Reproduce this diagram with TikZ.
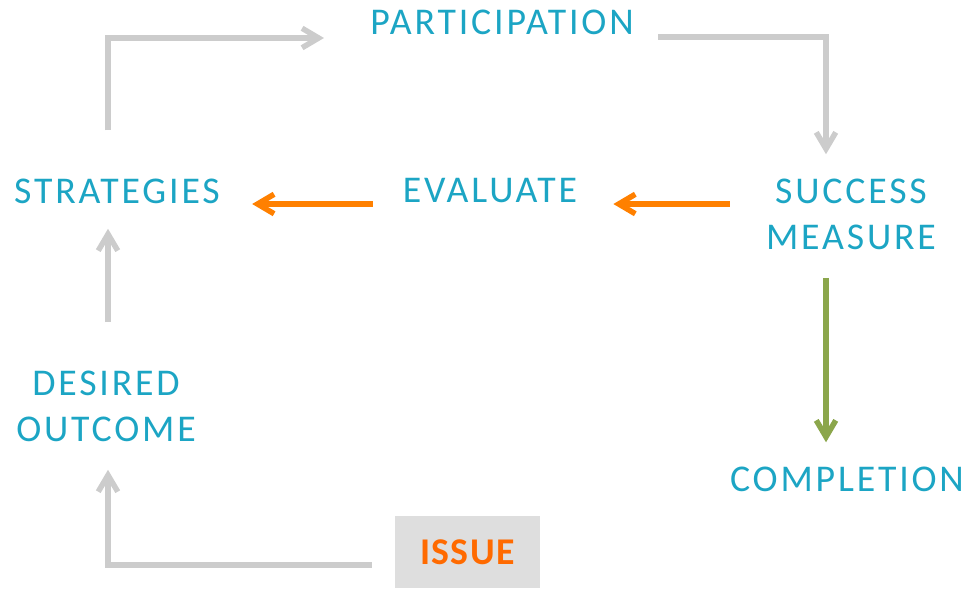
\documentclass[tikz,border=0pt]{standalone}
\usepackage{fontspec}
\usetikzlibrary{arrows.meta,calc}
\newfontfamily\labelfont{Carlito}[LetterSpace=7.5]
\newfontfamily\issuefont{Carlito}[LetterSpace=4]
\definecolor{teal}{RGB}{28,165,196}
\definecolor{linegray}{RGB}{204,204,204}
\definecolor{linkorange}{RGB}{255,128,0}
\definecolor{issueorange}{RGB}{255,106,0}
\definecolor{linkgreen}{RGB}{139,166,75}
\definecolor{boxgray}{RGB}{222,222,222}

\begin{document}
\begin{tikzpicture}[x=0.2mm,y=-0.2mm,
    label/.style={inner sep=0pt,text=teal,align=center,
        font=\labelfont\fontsize{21.5}{26.2}\selectfont},
    link/.style={line width=1.1mm,
        -{Straight Barb[length=3.3mm,width=3.9mm]}},
    graylink/.style={link,draw=linegray},
    orangelink/.style={link,draw=linkorange},
    greenlink/.style={link,draw=linkgreen}]
    \useasboundingbox (0,0) rectangle (963,589);

    \node[label] (part) at (502,22) {PARTICIPATION};
    \node[label] (strat) at (117,191) {STRATEGIES};
    \node[label] (eval) at (490,191) {EVALUATE};
    \node[label] (success) at (851,214) {SUCCESS\\MEASURE};
    \node[label] (desired) at (106,406) {DESIRED\\OUTCOME};
    \node[label] (completion) at (847,479) {COMPLETION};
    \node[label,fill=boxgray,text=issueorange,minimum width=29mm,
        minimum height=14.4mm,font=\issuefont\bfseries\fontsize{21.5}{26.2}\selectfont]
        (issue) at (467.5,552) {ISSUE};

    % main loop
    \draw[graylink] ($(strat.north)+(-9,-48)$) |- ($(part.west)+(-46,16)$);
    \draw[graylink] ($(part.east)+(24,15)$) -| ($(success.north)+(-25,-24)$);
    \draw[orangelink] ($(success.west)+(-36,-10)$) -- ($(eval.east)+(36,13)$);
    \draw[orangelink] ($(eval.west)+(-30,13)$) -- ($(strat.east)+(32,13)$);
    \draw[greenlink] ($(success.south)+(-25,28)$) -- ($(completion.north)+(-21,-24)$);
    \draw[graylink] ($(desired.north)+(2,-48)$) -- ($(strat.south)+(-9,25)$);
    \draw[graylink] ($(issue.west)+(-23,13)$) -| ($(desired.south)+(2,28)$);
\end{tikzpicture}
\end{document}
